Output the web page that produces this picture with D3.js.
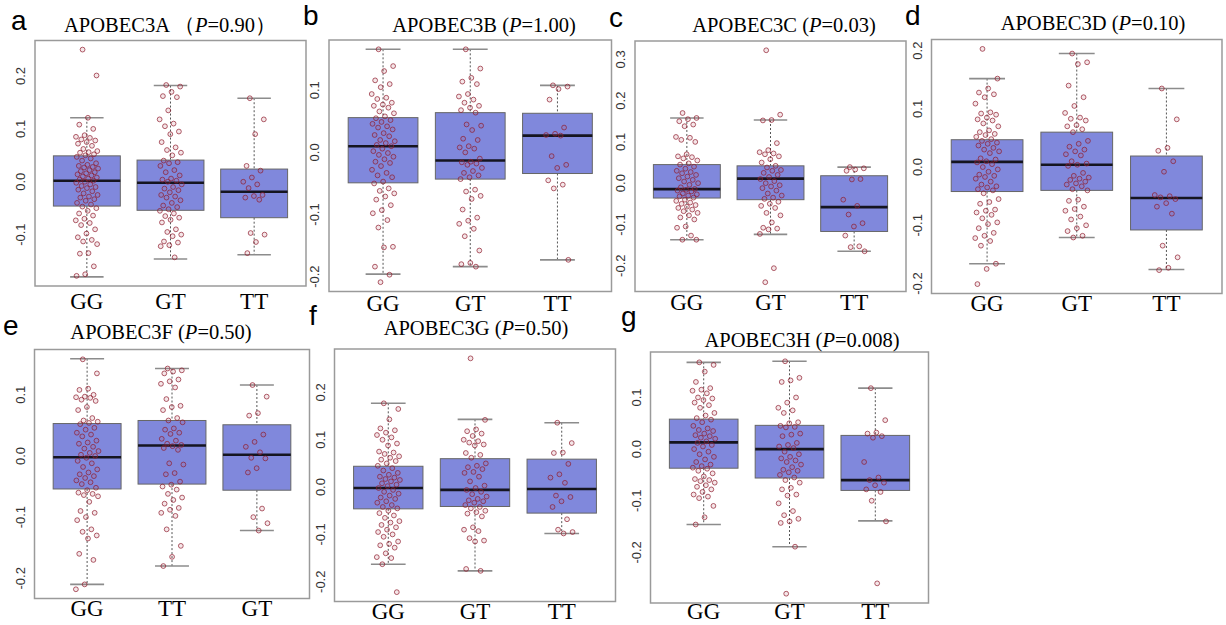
<!DOCTYPE html>
<html>
<head>
<meta charset="utf-8">
<script src="https://cdn.jsdelivr.net/npm/d3@7/dist/d3.min.js"></script>
<style>
  body { margin: 0; background: #fff; }
  svg { display: block; }
  .tick-label { font-family: "Liberation Sans", Arial, sans-serif; font-size: 13px; fill: #333; }
  .cat-label { font-family: "Liberation Serif", "Times New Roman", serif; font-size: 23px; fill: #000; }
  .title { font-family: "Liberation Serif", "Times New Roman", serif; font-size: 20.5px; fill: #000; }
  .letter { font-family: "Liberation Sans", Arial, sans-serif; font-size: 28px; fill: #000; }
</style>
</head>
<body>
<svg id="chart" width="1226" height="625"></svg>
<script>
// panel titles
const letters = ["a", "b", "c", "d", "e", "f", "g"];
const genes = ["APOBEC3A", "APOBEC3B", "APOBEC3C", "APOBEC3D", "APOBEC3F", "APOBEC3G", "APOBEC3H"];
const pValues = ["0.90", "1.00", "0.03", "0.10", "0.50", "0.50", "0.008"];

// genotype order on the x axis of each panel
const categories = [
  ["GG", "GT", "TT"], ["GG", "GT", "TT"], ["GG", "GT", "TT"], ["GG", "GT", "TT"],
  ["GG", "TT", "GT"], ["GG", "GT", "TT"], ["GG", "GT", "TT"]
];

// box stats per group: [lower whisker, Q1, median, Q3, upper whisker]
const boxA = [[-0.180, -0.046, 0.002, 0.049, 0.121], [-0.146, -0.054, -0.002, 0.041, 0.182], [-0.138, -0.068, -0.019, 0.024, 0.158]];
const boxB = [[-0.196, -0.049, 0.010, 0.056, 0.166], [-0.184, -0.043, -0.013, 0.064, 0.166], [-0.173, -0.034, 0.027, 0.063, 0.108]];
const boxC = [[-0.137, -0.036, -0.0145, 0.045, 0.158], [-0.124, -0.040, 0.011, 0.042, 0.153], [-0.165, -0.117, -0.058, 0.018, 0.039]];
const boxD = [[-0.166, -0.042, 0.009, 0.047, 0.152], [-0.121, -0.040, 0.004, 0.060, 0.195], [-0.176, -0.108, -0.053, 0.019, 0.135]];
const boxE = [[-0.210, -0.054, -0.002, 0.053, 0.159], [-0.180, -0.046, 0.017, 0.058, 0.143], [-0.122, -0.056, 0.002, 0.051, 0.116]];
const boxF = [[-0.163, -0.046, -0.002, 0.044, 0.177], [-0.177, -0.041, -0.006, 0.060, 0.143], [-0.098, -0.055, -0.004, 0.059, 0.136]];
const boxG = [[-0.146, -0.037, 0.013, 0.058, 0.168], [-0.189, -0.056, 0.000, 0.046, 0.170], [-0.139, -0.080, -0.060, 0.0265, 0.118]];

// individual samples per group (same order as categories)
const pointsA = [
  [0.250, 0.201, 0.121, 0.108, 0.100, 0.088, 0.085, 0.083, 0.080, 0.078, 0.075, 0.072, 0.068, 0.062, 0.058, 0.056, 0.055, 0.052, 0.050, 0.047, 0.044, 0.040, 0.035, 0.032, 0.030, 0.028, 0.027, 0.025, 0.022, 0.020, 0.018, 0.016, 0.014, 0.012, 0.010, 0.008, 0.006, 0.004, 0.002, 0.000, -0.002, -0.005, -0.008, -0.010, -0.012, -0.015, -0.018, -0.022, -0.025, -0.028, -0.030, -0.033, -0.036, -0.040, -0.043, -0.047, -0.050, -0.055, -0.060, -0.064, -0.070, -0.073, -0.078, -0.082, -0.090, -0.098, -0.105, -0.110, -0.113, -0.118, -0.135, -0.136, -0.160, -0.175, -0.178],
  [0.183, 0.180, 0.170, 0.162, 0.160, 0.135, 0.118, 0.110, 0.105, 0.095, 0.090, 0.075, 0.065, 0.060, 0.055, 0.050, 0.040, 0.037, 0.035, 0.030, 0.022, 0.018, 0.012, 0.006, 0.004, 0.002, 0.000, -0.005, -0.010, -0.013, -0.016, -0.020, -0.025, -0.028, -0.030, -0.035, -0.040, -0.045, -0.048, -0.052, -0.055, -0.060, -0.065, -0.068, -0.072, -0.077, -0.090, -0.095, -0.100, -0.103, -0.113, -0.115, -0.120, -0.122, -0.143],
  [0.158, 0.118, 0.090, 0.030, 0.021, 0.008, 0.000, -0.005, -0.012, -0.025, -0.027, -0.030, -0.034, -0.097, -0.100, -0.114, -0.135]
];
const pointsB = [
  [0.166, 0.139, 0.131, 0.116, 0.110, 0.105, 0.094, 0.088, 0.086, 0.080, 0.077, 0.075, 0.072, 0.066, 0.063, 0.058, 0.055, 0.052, 0.049, 0.046, 0.042, 0.040, 0.037, 0.031, 0.028, 0.026, 0.020, 0.018, 0.015, 0.012, 0.010, 0.006, 0.002, -0.001, -0.004, -0.007, -0.011, -0.015, -0.017, -0.022, -0.028, -0.033, -0.037, -0.040, -0.047, -0.050, -0.058, -0.062, -0.066, -0.071, -0.076, -0.085, -0.093, -0.098, -0.109, -0.121, -0.152, -0.153, -0.184, -0.197, -0.209],
  [0.166, 0.135, 0.120, 0.114, 0.110, 0.094, 0.090, 0.085, 0.080, 0.075, 0.072, 0.068, 0.064, 0.045, 0.043, 0.036, 0.022, 0.020, 0.010, 0.008, 0.006, 0.000, -0.010, -0.015, -0.016, -0.018, -0.020, -0.025, -0.030, -0.033, -0.037, -0.040, -0.043, -0.060, -0.063, -0.070, -0.075, -0.092, -0.105, -0.110, -0.115, -0.123, -0.135, -0.158, -0.178, -0.180, -0.184],
  [0.108, 0.106, 0.102, 0.085, 0.040, 0.030, 0.028, 0.027, -0.006, -0.020, -0.025, -0.045, -0.052, -0.058, -0.173]
];
const pointsC = [
  [0.170, 0.158, 0.155, 0.150, 0.142, 0.138, 0.112, 0.110, 0.105, 0.100, 0.070, 0.065, 0.063, 0.060, 0.055, 0.048, 0.045, 0.040, 0.035, 0.030, 0.027, 0.024, 0.020, 0.016, 0.012, 0.008, 0.004, 0.000, -0.004, -0.010, -0.014, -0.016, -0.018, -0.020, -0.025, -0.027, -0.030, -0.032, -0.035, -0.040, -0.043, -0.047, -0.050, -0.053, -0.057, -0.060, -0.064, -0.068, -0.072, -0.078, -0.083, -0.088, -0.105, -0.108, -0.127, -0.137, -0.137],
  [0.322, 0.166, 0.153, 0.152, 0.097, 0.080, 0.075, 0.072, 0.070, 0.065, 0.058, 0.050, 0.042, 0.038, 0.032, 0.030, 0.025, 0.020, 0.015, 0.010, 0.005, 0.000, -0.005, -0.008, -0.012, -0.018, -0.025, -0.030, -0.035, -0.038, -0.045, -0.050, -0.055, -0.060, -0.072, -0.078, -0.095, -0.108, -0.110, -0.112, -0.123, -0.206, -0.240],
  [0.039, 0.036, 0.033, 0.030, 0.010, 0.009, -0.040, -0.055, -0.076, -0.097, -0.105, -0.127, -0.153, -0.155, -0.165]
];
const pointsD = [
  [0.203, 0.152, 0.135, 0.128, 0.125, 0.120, 0.109, 0.094, 0.092, 0.090, 0.085, 0.082, 0.080, 0.075, 0.070, 0.063, 0.060, 0.057, 0.055, 0.052, 0.048, 0.045, 0.042, 0.040, 0.037, 0.033, 0.030, 0.027, 0.024, 0.015, 0.013, 0.010, 0.008, 0.005, 0.000, -0.004, -0.008, -0.013, -0.015, -0.017, -0.020, -0.025, -0.030, -0.033, -0.035, -0.038, -0.040, -0.045, -0.055, -0.060, -0.063, -0.073, -0.075, -0.078, -0.082, -0.088, -0.095, -0.098, -0.105, -0.113, -0.118, -0.122, -0.127, -0.135, -0.166, -0.175, -0.201],
  [0.195, 0.180, 0.177, 0.140, 0.120, 0.105, 0.093, 0.085, 0.083, 0.080, 0.072, 0.070, 0.065, 0.060, 0.045, 0.040, 0.035, 0.030, 0.027, 0.022, 0.020, 0.010, 0.006, 0.004, 0.002, -0.010, -0.015, -0.018, -0.020, -0.022, -0.025, -0.028, -0.030, -0.033, -0.038, -0.040, -0.056, -0.058, -0.068, -0.072, -0.075, -0.085, -0.090, -0.100, -0.105, -0.110, -0.118, -0.121],
  [0.135, 0.082, 0.033, 0.028, 0.010, -0.008, -0.048, -0.050, -0.052, -0.055, -0.062, -0.068, -0.080, -0.135, -0.155, -0.173, -0.177]
];
const pointsE = [
  [0.158, 0.135, 0.110, 0.108, 0.100, 0.097, 0.096, 0.095, 0.092, 0.090, 0.080, 0.075, 0.062, 0.058, 0.056, 0.054, 0.052, 0.046, 0.043, 0.038, 0.035, 0.032, 0.025, 0.022, 0.020, 0.015, 0.012, 0.008, 0.005, 0.002, 0.000, -0.003, -0.008, -0.012, -0.018, -0.022, -0.027, -0.030, -0.033, -0.036, -0.040, -0.043, -0.046, -0.052, -0.056, -0.060, -0.062, -0.064, -0.066, -0.075, -0.090, -0.093, -0.100, -0.105, -0.120, -0.124, -0.130, -0.135, -0.160, -0.170, -0.210, -0.218],
  [0.143, 0.140, 0.138, 0.135, 0.125, 0.122, 0.118, 0.112, 0.093, 0.082, 0.080, 0.075, 0.062, 0.058, 0.055, 0.045, 0.043, 0.038, 0.036, 0.028, 0.025, 0.020, 0.018, 0.016, 0.013, 0.010, -0.012, -0.014, -0.028, -0.030, -0.042, -0.047, -0.050, -0.055, -0.062, -0.068, -0.072, -0.078, -0.085, -0.088, -0.093, -0.098, -0.120, -0.147, -0.165, -0.180],
  [0.116, 0.097, 0.070, 0.066, 0.035, 0.023, 0.015, 0.006, -0.003, -0.004, -0.020, -0.027, -0.086, -0.100, -0.110, -0.122]
];
const pointsF = [
  [0.177, 0.165, 0.143, 0.124, 0.120, 0.115, 0.110, 0.105, 0.100, 0.092, 0.088, 0.075, 0.073, 0.070, 0.065, 0.062, 0.058, 0.055, 0.050, 0.045, 0.040, 0.035, 0.030, 0.026, 0.022, 0.020, 0.017, 0.015, 0.012, 0.008, 0.005, 0.002, -0.002, -0.006, -0.010, -0.014, -0.018, -0.022, -0.025, -0.030, -0.033, -0.038, -0.042, -0.045, -0.050, -0.055, -0.060, -0.065, -0.072, -0.075, -0.080, -0.085, -0.090, -0.095, -0.100, -0.105, -0.115, -0.120, -0.123, -0.128, -0.140, -0.148, -0.150, -0.163, -0.222],
  [0.272, 0.142, 0.122, 0.118, 0.113, 0.108, 0.100, 0.097, 0.094, 0.090, 0.088, 0.072, 0.068, 0.062, 0.050, 0.045, 0.042, 0.038, 0.032, 0.030, 0.022, 0.012, 0.003, -0.002, -0.006, -0.010, -0.015, -0.020, -0.025, -0.028, -0.030, -0.033, -0.038, -0.042, -0.045, -0.050, -0.053, -0.056, -0.062, -0.085, -0.090, -0.093, -0.108, -0.113, -0.115, -0.173, -0.177],
  [0.136, 0.093, 0.073, 0.072, 0.049, 0.027, 0.020, 0.009, -0.018, -0.021, -0.030, -0.042, -0.068, -0.090, -0.095, -0.098]
];
const pointsG = [
  [0.168, 0.163, 0.150, 0.130, 0.118, 0.115, 0.113, 0.108, 0.100, 0.098, 0.095, 0.090, 0.085, 0.080, 0.070, 0.065, 0.060, 0.057, 0.052, 0.045, 0.040, 0.037, 0.035, 0.030, 0.027, 0.025, 0.022, 0.020, 0.015, 0.012, 0.008, 0.005, 0.000, -0.005, -0.010, -0.015, -0.020, -0.025, -0.030, -0.033, -0.036, -0.038, -0.042, -0.047, -0.053, -0.058, -0.060, -0.062, -0.065, -0.070, -0.073, -0.078, -0.083, -0.088, -0.092, -0.095, -0.110, -0.132, -0.146],
  [0.170, 0.138, 0.133, 0.130, 0.100, 0.090, 0.080, 0.075, 0.070, 0.052, 0.050, 0.045, 0.043, 0.042, 0.030, 0.028, 0.025, 0.012, 0.008, 0.005, 0.002, -0.005, -0.010, -0.015, -0.018, -0.022, -0.025, -0.030, -0.035, -0.040, -0.042, -0.045, -0.050, -0.055, -0.060, -0.065, -0.075, -0.078, -0.088, -0.090, -0.105, -0.120, -0.128, -0.135, -0.140, -0.143, -0.189, -0.280],
  [0.118, 0.056, 0.032, 0.030, 0.025, 0.022, -0.025, -0.055, -0.060, -0.065, -0.070, -0.078, -0.083, -0.100, -0.140, -0.260]
];

const boxes = [boxA, boxB, boxC, boxD, boxE, boxF, boxG];
const points = [pointsA, pointsB, pointsC, pointsD, pointsE, pointsF, pointsG];

// layout: plot frame [left, top, right, bottom], title [x, baseline], letter [x, baseline], x label baseline
const frames = [[35, 40.5, 306, 286], [329, 40, 611.5, 291.5], [635, 41, 906, 291.5], [931.5, 39.5, 1222, 293.5],
                [34.5, 349.5, 309.5, 598.5], [334.5, 349, 615.5, 601.5], [650.5, 352, 928.5, 603]];
const titlePos = [[170, 31.5], [484, 31.5], [784, 32], [1093, 29.5], [161, 339], [476, 335], [802, 347]];
const letterPos = [[11, 30], [303, 25], [609, 27], [905, 25], [3, 335], [309, 325], [621, 326]];
const catBaseline = [309, 311, 310, 311, 616, 618.5, 618.5];

const BOX_FILL = "#8088dc";
const POINT_COL = "#8e1c2e";

const svg = d3.select("#chart");
svg.append("rect").attr("width", 1226).attr("height", 625).attr("fill", "#fff");

const fmt = v => d3.format(".1f")(v).replace("\u2212", "-");

const drawPanel = i => {
  const [l, t, r, b] = frames[i];
  const g = svg.append("g").attr("class", `panel panel-${letters[i]}`);

  // y range like R: data range extended 4% each side
  const allVals = points[i].flat().concat(boxes[i].flat());
  const [lo, hi] = d3.extent(allVals);
  const pad = (hi - lo) * 0.04;
  const y = d3.scaleLinear().domain([lo - pad, hi + pad]).range([b, t]);
  const x = d3.scaleLinear().domain([0.38, 3.62]).range([l, r]);
  const unit = x(2) - x(1);
  const boxW = unit * 0.8;

  // frame
  g.append("rect")
    .attr("x", l).attr("y", t)
    .attr("width", r - l).attr("height", b - t)
    .attr("fill", "none")
    .attr("stroke", "#9a9a9a")
    .attr("stroke-width", 1.5);

  // y tick labels (rotated as in base R)
  const yTicks = d3.range(Math.ceil((lo - pad) * 10), Math.floor((hi + pad) * 10) + 1).map(k => k / 10);
  g.selectAll(".tick-label")
    .data(yTicks)
    .enter()
    .append("text")
    .attr("class", "tick-label")
    .attr("transform", d => `translate(${l - 10},${y(d)}) rotate(-90)`)
    .attr("text-anchor", "middle")
    .text(fmt);

  const groups = categories[i].map((c, k) => ({ cat: c, pos: k + 1, stats: boxes[i][k], vals: points[i][k] }));

  const grp = g.selectAll(".grp").data(groups).enter().append("g").attr("class", "grp");

  // whiskers (dotted)
  grp.append("line")
    .attr("x1", d => x(d.pos)).attr("x2", d => x(d.pos))
    .attr("y1", d => y(d.stats[4])).attr("y2", d => y(d.stats[3]))
    .attr("stroke", "#555").attr("stroke-width", 1).attr("stroke-dasharray", "2,2");
  grp.append("line")
    .attr("x1", d => x(d.pos)).attr("x2", d => x(d.pos))
    .attr("y1", d => y(d.stats[1])).attr("y2", d => y(d.stats[0]))
    .attr("stroke", "#555").attr("stroke-width", 1).attr("stroke-dasharray", "2,2");

  // staples
  [0, 4].forEach(s => {
    grp.append("line")
      .attr("x1", d => x(d.pos) - boxW / 4).attr("x2", d => x(d.pos) + boxW / 4)
      .attr("y1", d => y(d.stats[s])).attr("y2", d => y(d.stats[s]))
      .attr("stroke", "#8c8c8c").attr("stroke-width", 1.6);
  });

  // box
  grp.append("rect")
    .attr("x", d => x(d.pos) - boxW / 2)
    .attr("y", d => y(d.stats[3]))
    .attr("width", boxW)
    .attr("height", d => y(d.stats[1]) - y(d.stats[3]))
    .attr("fill", BOX_FILL)
    .attr("stroke", "#666")
    .attr("stroke-width", 1);

  // median
  grp.append("line")
    .attr("x1", d => x(d.pos) - boxW / 2).attr("x2", d => x(d.pos) + boxW / 2)
    .attr("y1", d => y(d.stats[2])).attr("y2", d => y(d.stats[2]))
    .attr("stroke", "#151520").attr("stroke-width", 2.6);

  // jittered samples (deterministic spread around the group centre)
  grp.selectAll("circle")
    .data(d => d.vals.map((v, j) => ({ v, pos: d.pos, j })))
    .enter()
    .append("circle")
    .attr("cx", d => x(d.pos + (((d.j * 0.618034 + 0.31) % 1) - 0.5) * 0.27))
    .attr("cy", d => y(d.v))
    .attr("r", 2.4)
    .attr("fill", "rgba(190,90,100,0.15)")
    .attr("stroke", POINT_COL)
    .attr("stroke-opacity", 0.7)
    .attr("stroke-width", 1);

  // category labels
  g.selectAll(".cat-label")
    .data(groups)
    .enter()
    .append("text")
    .attr("class", "cat-label")
    .attr("x", d => x(d.pos))
    .attr("y", catBaseline[i])
    .attr("text-anchor", "middle")
    .text(d => d.cat);

  // title: panel a uses full-width brackets
  const title = g.append("text")
    .attr("class", "title")
    .attr("x", titlePos[i][0])
    .attr("y", titlePos[i][1])
    .attr("text-anchor", "middle");
  const open = i === 0 ? " \uFF08" : " (";
  const close = i === 0 ? "\uFF09" : ")";
  title.append("tspan").text(genes[i] + open);
  title.append("tspan").attr("font-style", "italic").text("P");
  title.append("tspan").text("=" + pValues[i] + close);

  // panel letter
  g.append("text")
    .attr("class", "letter")
    .attr("x", letterPos[i][0])
    .attr("y", letterPos[i][1])
    .text(letters[i]);
};

letters.forEach((_, i) => drawPanel(i));
</script>
</body>
</html>
